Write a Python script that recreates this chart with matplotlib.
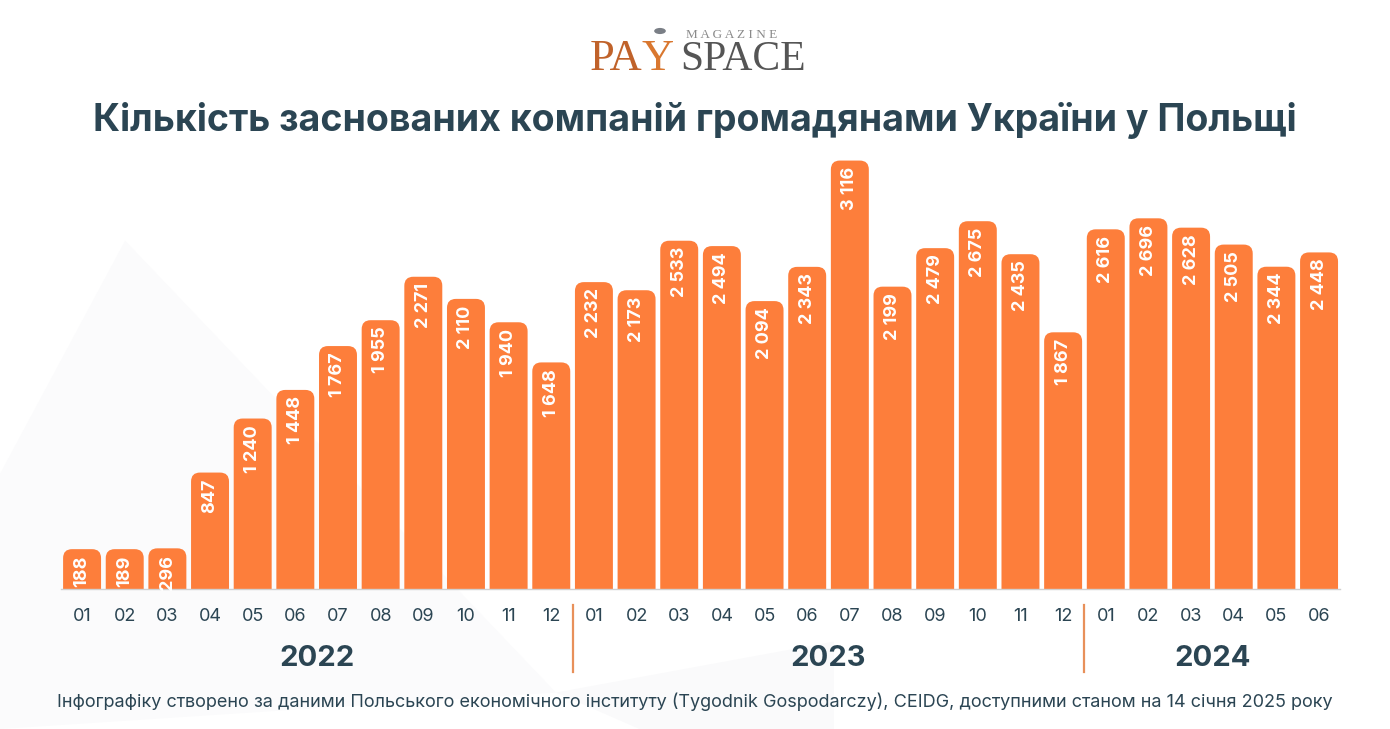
import matplotlib
matplotlib.use("Agg")
import matplotlib.pyplot as plt
import matplotlib.transforms as mtransforms
from matplotlib.patches import FancyBboxPatch, Circle, Polygon

plt.rcParams['font.family'] = ['Inter', 'DejaVu Sans']

# data
years = ['2022', '2023', '2024']
months_2022 = ['01', '02', '03', '04', '05', '06', '07', '08', '09', '10', '11', '12']
months_2023 = ['01', '02', '03', '04', '05', '06', '07', '08', '09', '10', '11', '12']
months_2024 = ['01', '02', '03', '04', '05', '06']
values_2022 = [188, 189, 296, 847, 1240, 1448, 1767, 1955, 2271, 2110, 1940, 1648]
values_2023 = [2232, 2173, 2533, 2494, 2094, 2343, 3116, 2199, 2479, 2675, 2435, 1867]
values_2024 = [2616, 2696, 2628, 2505, 2344, 2448]

title = 'Кількість заснованих компаній громадянами України у Польщі'
footer = ('Інфографіку створено за даними Польського економічного інституту '
          '(Tygodnik Gospodarczy), CEIDG, доступними станом на 14 січня 2025 року')

BAR = '#FD7E3B'
DARK = '#2B4553'
SEP = '#E8905A'
MIN_BAR = 290  # smallest drawn height so that labels fit inside

months = months_2022 + months_2023 + months_2024
values = values_2022 + values_2023 + values_2024
groups = [len(months_2022), len(months_2023), len(months_2024)]

fig = plt.figure(figsize=(13.9, 7.29), dpi=100, facecolor='white')

# faint background shapes
fig.patches.append(Polygon([(0.0, 0.35), (0.09, 0.67), (0.40, 0.05), (0.0, 0.0)],
                           closed=True, transform=fig.transFigure,
                           facecolor='#FBFBFC', edgecolor='none', zorder=-5))
fig.patches.append(Polygon([(0.40, 0.05), (0.46, 0.0), (0.60, 0.0), (0.60, 0.12)],
                           closed=True, transform=fig.transFigure,
                           facecolor='#FAFAFB', edgecolor='none', zorder=-5))

ax = fig.add_axes([0.0437, 0.192, 0.9206, 0.6036])
ax.set_facecolor('none')
x = list(range(len(values)))
drawn = [max(v, MIN_BAR) for v in values]
bars = ax.bar(x, drawn, width=0.89, color=BAR)

ax.set_xlim(-0.5, len(values) - 0.5)
ax.set_ylim(0, 3200)

# replace the plain rectangles by ones with rounded tops
for b in bars:
    b.set_visible(False)
    r = 0.21
    aspect = 310
    p = FancyBboxPatch((b.get_x(), -r * aspect), b.get_width(), b.get_height() + r * aspect,
                       boxstyle='round,pad=0,rounding_size=%f' % r,
                       mutation_aspect=aspect, facecolor=BAR, edgecolor='none')
    ax.add_patch(p)

for xi, v, h in zip(x, values, drawn):
    ax.annotate(f'{v:,}'.replace(',', ' '), xy=(xi, h), xytext=(0, -4.5),
                textcoords='offset points', ha='center', va='top', rotation=90,
                color='white', fontsize=13, fontweight='bold')

for s in ['top', 'right', 'left']:
    ax.spines[s].set_visible(False)
ax.spines['bottom'].set_color('#D0D0D0')
ax.spines['bottom'].set_linewidth(1.0)
ax.set_yticks([])
ax.set_xticks(x)
ax.set_xticklabels(months, fontsize=13, color=DARK)
ax.tick_params(axis='x', length=0, pad=14)

trans = mtransforms.blended_transform_factory(ax.transData, ax.transAxes)
start = 0
for yr, n in zip(years, groups):
    ax.text(start + (n - 1) / 2, -0.158, yr, transform=trans, ha='center', va='center',
            fontsize=21, fontweight='bold', color=DARK)
    start += n
    if start < len(values):
        ax.plot([start - 0.5, start - 0.5], [-0.036, -0.189], transform=trans,
                color=SEP, lw=1.6, clip_on=False)

fig.text(0.5, 0.835, title, ha='center', va='center', fontsize=27,
         fontweight='bold', color=DARK)
fig.text(0.5, 0.037, footer, ha='center', va='center', fontsize=13, color=DARK)

# logo
fig.text(590 / 1390, 0.904, 'PA', ha='left', va='baseline', fontsize=32,
         family='Liberation Serif', color='#C0622A')
fig.text(641 / 1390, 0.904, 'Y', ha='left', va='baseline', fontsize=32,
         family='Liberation Serif', color='#D9772F')
fig.text(680 / 1390, 0.904, 'SPACE', ha='left', va='baseline', fontsize=30,
         family='Liberation Serif', color='#555555')
fig.text(686 / 1390, 1 - 38 / 729, 'M A G A Z I N E', ha='left', va='baseline',
         fontsize=9.5, family='Liberation Serif', color='#8A8A8A')
fig.patches.append(Circle((660 / 1390, 1 - 31 / 729), 0.0042, transform=fig.transFigure,
                          facecolor='#7A7F86', edgecolor='none'))

fig.savefig('out.png', dpi=100, facecolor='white')
